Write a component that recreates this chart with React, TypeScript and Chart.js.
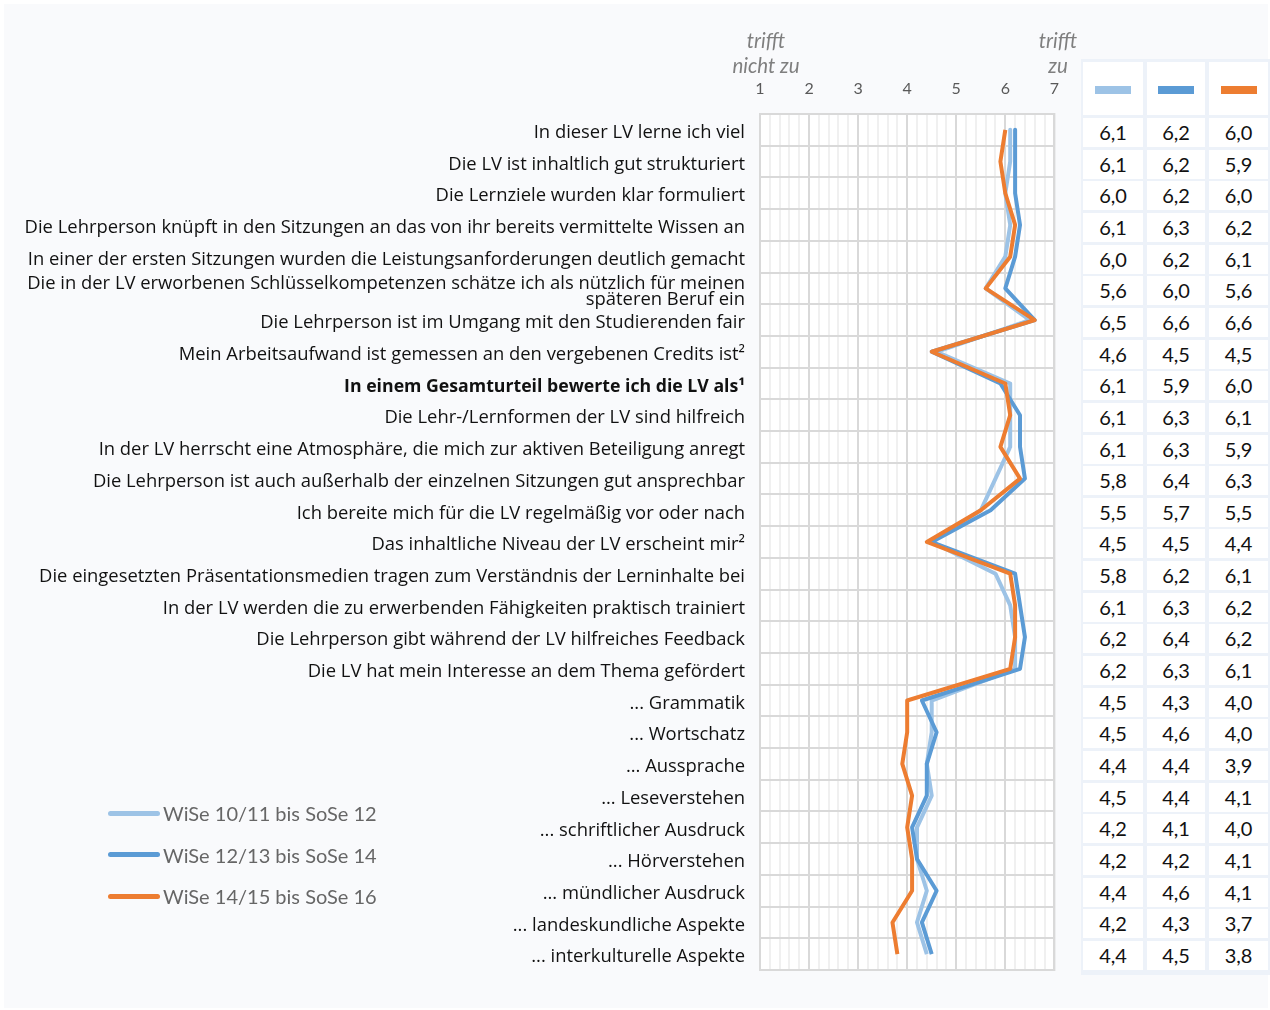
import React, { useEffect, useRef } from 'react';
import { Chart, registerables } from 'chart.js';

Chart.register(...registerables);

const categories: (string | string[])[] = [
  'In dieser LV lerne ich viel',
  'Die LV ist inhaltlich gut strukturiert',
  'Die Lernziele wurden klar formuliert',
  'Die Lehrperson knüpft in den Sitzungen an das von ihr bereits vermittelte Wissen an',
  'In einer der ersten Sitzungen wurden die Leistungsanforderungen deutlich gemacht',
  ['Die in der LV erworbenen Schlüsselkompetenzen schätze ich als nützlich für meinen', 'späteren Beruf ein'],
  'Die Lehrperson ist im Umgang mit den Studierenden fair',
  'Mein Arbeitsaufwand ist gemessen an den vergebenen Credits ist²',
  'In einem Gesamturteil bewerte ich die LV als¹',
  'Die Lehr-/Lernformen der LV sind hilfreich',
  'In der LV herrscht eine Atmosphäre, die mich zur aktiven Beteiligung anregt',
  'Die Lehrperson ist auch außerhalb der einzelnen Sitzungen gut ansprechbar',
  'Ich bereite mich für die LV regelmäßig vor oder nach',
  'Das inhaltliche Niveau der LV erscheint mir²',
  'Die eingesetzten Präsentationsmedien tragen zum Verständnis der Lerninhalte bei',
  'In der LV werden die zu erwerbenden Fähigkeiten praktisch trainiert',
  'Die Lehrperson gibt während der LV hilfreiches Feedback',
  'Die LV hat mein Interesse an dem Thema gefördert',
  '... Grammatik',
  '... Wortschatz',
  '... Aussprache',
  '... Leseverstehen',
  '... schriftlicher Ausdruck',
  '... Hörverstehen',
  '... mündlicher Ausdruck',
  '... landeskundliche Aspekte',
  '... interkulturelle Aspekte',
];

const boldIndex = 8;

const seriesNames = ['WiSe 10/11 bis SoSe 12', 'WiSe 12/13 bis SoSe 14', 'WiSe 14/15 bis SoSe 16'];
const seriesColors = ['#9DC3E6', '#5B9BD5', '#ED7D31'];

const wise1012 = [6.1, 6.1, 6.0, 6.1, 6.0, 5.6, 6.5, 4.6, 6.1, 6.1, 6.1, 5.8, 5.5, 4.5, 5.8, 6.1, 6.2, 6.2, 4.5, 4.5, 4.4, 4.5, 4.2, 4.2, 4.4, 4.2, 4.4];
const wise1214 = [6.2, 6.2, 6.2, 6.3, 6.2, 6.0, 6.6, 4.5, 5.9, 6.3, 6.3, 6.4, 5.7, 4.5, 6.2, 6.3, 6.4, 6.3, 4.3, 4.6, 4.4, 4.4, 4.1, 4.2, 4.6, 4.3, 4.5];
const wise1416 = [6.0, 5.9, 6.0, 6.2, 6.1, 5.6, 6.6, 4.5, 6.0, 6.1, 5.9, 6.3, 5.5, 4.4, 6.1, 6.2, 6.2, 6.1, 4.0, 4.0, 3.9, 4.1, 4.0, 4.1, 4.1, 3.7, 3.8];

const seriesValues = [wise1012, wise1214, wise1416];

const scaleMin = 1;
const scaleMax = 7;
const minorStep = 0.2;

const FONT = 'Lato, "Noto Sans", sans-serif';
const LABEL_FONT = '"Open Sans", Lato, sans-serif';

const isInt = (v: number) => Math.abs(v - Math.round(v)) < 1e-6;

const framePlugin = {
  id: 'frame',
  beforeDraw(chart: any) {
    const { ctx, chartArea: a } = chart;
    ctx.save();
    ctx.fillStyle = '#ffffff';
    ctx.fillRect(a.left, a.top, a.right - a.left, a.bottom - a.top);
    ctx.restore();
  },
  beforeDatasetsDraw(chart: any) {
    const { ctx, chartArea: a } = chart;
    ctx.save();
    ctx.strokeStyle = '#d9d9d9';
    ctx.lineWidth = 2;
    ctx.strokeRect(a.left, a.top, a.right - a.left, a.bottom - a.top);
    ctx.restore();
  },
};

const fmt = (v: number) => v.toFixed(1).replace('.', ',');

export default function App() {
  const canvasRef = useRef<HTMLCanvasElement | null>(null);

  useEffect(() => {
    const canvas = canvasRef.current;
    if (!canvas) return;
    const order = [3, 2, 1];
    const chart = new Chart(canvas, {
      type: 'line',
      data: {
        labels: categories as any,
        datasets: seriesValues.map((vals, i) => ({
          label: seriesNames[i],
          data: vals,
          borderColor: seriesColors[i],
          backgroundColor: seriesColors[i],
          borderWidth: 4,
          pointRadius: 0,
          pointHoverRadius: 0,
          tension: 0,
          fill: false,
          order: order[i],
          borderJoinStyle: 'round' as const,
        })),
      },
      options: {
        indexAxis: 'y',
        animation: false,
        responsive: false,
        maintainAspectRatio: false,
        events: [],
        layout: { padding: { top: 0, right: 20, bottom: 40, left: 0 } },
        plugins: {
          legend: { display: false },
          tooltip: { enabled: false },
        },
        scales: {
          x: {
            type: 'linear',
            position: 'top',
            min: scaleMin,
            max: scaleMax,
            afterFit: (scale: any) => {
              scale.height = 114;
            },
            border: { display: false },
            grid: {
              drawTicks: false,
              color: (ctx: any) => (isInt(ctx.tick.value) ? '#d9d9d9' : '#f0f0f0'),
              lineWidth: 2,
            },
            ticks: {
              stepSize: minorStep,
              autoSkip: false,
              maxRotation: 0,
              padding: 16,
              color: '#595959',
              font: { family: FONT, size: 16 },
              callback: (v: any) => (isInt(Number(v)) ? String(Math.round(Number(v))) : ''),
            },
          },
          y: {
            type: 'category',
            offset: true,
            afterFit: (scale: any) => {
              scale.width = 760;
            },
            border: { display: false },
            grid: {
              offset: true,
              drawTicks: false,
              color: '#d9d9d9',
              lineWidth: 2,
            },
            ticks: {
              autoSkip: false,
              padding: 15,
              labelOffset: 3,
              color: '#111111',
              font: (ctx: any) => ({
                family: LABEL_FONT,
                size: ctx.index === boldIndex ? 17.7 : 18.4,
                weight: ctx.index === boldIndex ? 'bold' : 'normal',
                lineHeight: ctx.index === 5 ? 0.88 : 1.2,
              }),
            },
          },
        },
      },
      plugins: [framePlugin],
    } as any);
    return () => chart.destroy();
  }, []);

  const rowTop = 118;
  const rowPitch = 31.65;
  const rowH = 29;
  const colX = [1083, 1147, 1209];
  const colW = [60, 58, 59];

  return (
    <div style={{ position: 'absolute', left: 0, top: 0, width: 1270, height: 1010, background: '#ffffff', fontFamily: FONT, overflow: 'hidden' }}>
      <div style={{ position: 'absolute', left: 4, top: 4, width: 1264, height: 1004, background: '#f9fafc' }} />
      <canvas ref={canvasRef} width={1075} height={1010} style={{ position: 'absolute', left: 0, top: 0, width: 1075, height: 1010 }} />

      {/* axis end captions */}
      {[
        { x: 766, y: 40, t: 'trifft' },
        { x: 766, y: 65, t: 'nicht zu' },
        { x: 1058, y: 40, t: 'trifft' },
        { x: 1058, y: 65, t: 'zu' },
      ].map((c, i) => (
        <div key={i} style={{ position: 'absolute', left: c.x - 60, top: c.y - 13, width: 120, height: 26, lineHeight: '26px', textAlign: 'center', fontStyle: 'italic', fontSize: 20.5, color: '#7f7f7f' }}>
          {c.t}
        </div>
      ))}

      {/* legend */}
      {seriesNames.map((n, i) => (
        <div key={n} style={{ position: 'absolute', left: 108, top: 813 + i * 41.5 - 13, height: 26, display: 'flex', alignItems: 'center' }}>
          <div style={{ width: 52, height: 5, borderRadius: 3, background: seriesColors[i] }} />
          <div style={{ marginLeft: 3, fontSize: 20, color: '#666666', whiteSpace: 'nowrap' }}>{n}</div>
        </div>
      ))}

      {/* table */}
      <div style={{ position: 'absolute', left: 1081, top: 59, width: 190, height: 916, background: '#edf2f9' }} />
      {colX.map((x, c) => (
        <div key={'h' + c} style={{ position: 'absolute', left: x, top: 62, width: colW[c], height: 53, background: '#ffffff' }}>
          <div style={{ position: 'absolute', left: (colW[c] - 36) / 2, top: 24, width: 36, height: 8, background: seriesColors[c] }} />
        </div>
      ))}
      {categories.map((_, r) =>
        seriesValues.map((vals, c) => (
          <div
            key={r + '-' + c}
            style={{
              position: 'absolute',
              left: colX[c],
              top: rowTop + r * rowPitch,
              width: colW[c],
              height: rowH,
              lineHeight: rowH + 'px',
              background: '#ffffff',
              textAlign: 'center',
              fontSize: 20,
              color: '#111111',
            }}
          >
            {fmt(vals[r])}
          </div>
        ))
      )}
    </div>
  );
}
